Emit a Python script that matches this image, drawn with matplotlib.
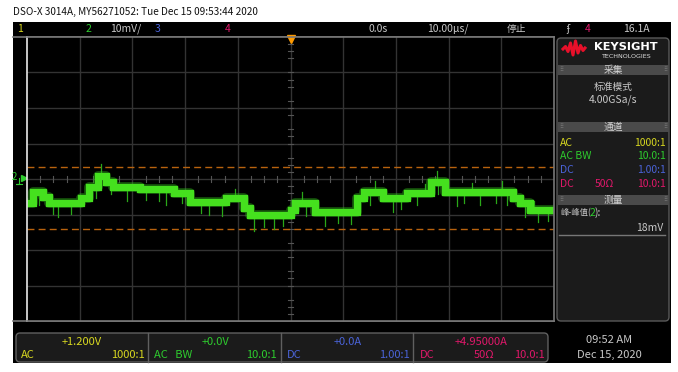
import matplotlib.pyplot as plt
from matplotlib.patches import Rectangle, FancyBboxPatch

# trace: step levels (time in us, level in mV)
step_t = [-50.0, -48.8, -46.9, -45.9, -39.8, -38.3, -36.6, -35.1, -33.6, -28.5,
          -22.2, -19.0, -12.3, -8.9, -7.6, 0.0, 0.9, 4.7, 12.7, 13.9,
          17.6, 22.2, 26.6, 29.4, 42.3, 43.6, 45.5, 50.0]
step_v = [-6.8, -3.7, -5.1, -6.8, -5.4, -2.3, 0.8, -0.8, -2.3, -2.8,
          -3.9, -6.5, -5.4, -8.2, -10.1, -8.7, -6.8, -9.3, -5.4, -3.7,
          -5.4, -3.9, -0.8, -3.7, -5.4, -6.8, -8.7, -8.7]
# short glitches on the trace (time, signed length in mV, minus = downward)
spike_t = [-48.5, -47.8, -45.0, -44.2, -41.7, -37.0, -34.0, -31.0, -27.5, -25.0,
           -23.6, -20.5, -17.0, -15.5, -13.0, -6.9, -5.0, -3.2, -1.5, 3.0,
           6.5, 9.0, 11.5, 15.0, 19.5, 21.0, 24.0, 28.0, 31.5, 33.0,
           36.0, 39.0, 41.0, 44.5, 47.0, 48.8, -36.0, -10.5, 2.2, 16.0,
           25.5, 27.8, 34.5, 40.2, 46.2]
spike_d = [-2.0, -2.5, -2.0, -3.0, -2.0, -2.0, -2.5, -3.0, -2.0, -2.5,
           -3.5, -2.0, -2.0, -2.5, -3.0, -3.5, -2.5, -3.0, -2.0, -2.5,
           -3.0, -2.0, -2.5, -2.5, -3.0, -2.0, -2.5, -2.5, -3.0, -2.0,
           -2.5, -2.0, -2.5, -3.0, -2.5, -2.0, 2.5, 1.5, 2.0, 2.0,
           1.5, 2.0, 1.5, 2.0, 1.5]
cursor_levels = [3.5, -14.2]

YEL = '#d8d820'
GRN = '#2ecc2e'
BLU = '#4a63d8'
MAG = '#e0186a'
GRY = '#c8c8c8'
FN = ['Liberation Sans Narrow', 'Noto Sans CJK SC', 'DejaVu Sans']
CJK = ['Noto Sans CJK SC', 'DejaVu Sans']

fig = plt.figure(figsize=(6.78, 3.72), dpi=100)
fig.patch.set_facecolor('white')

# full-figure layer in pixel units for frame, panels and texts
bg = fig.add_axes([0, 0, 1, 1])
bg.set_xlim(0, 678)
bg.set_ylim(372, 0)
bg.axis('off')
bg.add_patch(Rectangle((13, 22), 658, 341, facecolor='black', edgecolor='none'))
bg.plot([13, 554], [37, 37], color='#777777', lw=1.2)
bg.plot([13, 554], [321, 321], color='#777777', lw=1.2)

bg.text(13, 12, 'DSO-X 3014A, MY56271052: Tue Dec 15 09:53:44 2020',
        family=FN, fontsize=7.2, color='#111111', va='center')


def t(x, y, s, c=GRY, size=7.5, ha='left', fam=FN, **kw):
    bg.text(x, y, s, color=c, fontsize=size, ha=ha, va='center', family=fam, **kw)


# status bar
t(17, 29, '1', YEL)
t(86, 29, '2', GRN)
t(110, 29, '10mV/')
t(155, 29, '3', BLU)
t(225, 29, '4', MAG)
t(378, 29, '0.0s', ha='center')
t(448, 29, '10.00µs/', ha='center')
t(516, 29, '停止', fam=CJK, ha='center', size=7)
t(566, 29, 'ʄ', size=7)
t(585, 29, '4', MAG)
t(650, 29, '16.1A', ha='right')

# right side panel
bg.add_patch(FancyBboxPatch((557, 38), 112, 283, boxstyle='round,pad=0,rounding_size=4',
                            facecolor='#1b1b1b', edgecolor='#5a5a5a', lw=1))
logo_x = [563, 565.5, 568, 570.5, 573, 575.5, 578, 580.5, 583, 585]
logo_y = [49, 46.5, 51.5, 43, 55, 41, 53, 45.5, 50.5, 48]
bg.plot(logo_x, logo_y, color='#e8102a', lw=2.2, solid_joinstyle='round')
bg.text(626, 47, 'KEYSIGHT', color='white', fontsize=8.2, weight='bold',
        ha='center', va='center', family='DejaVu Sans')
bg.text(626, 56.5, 'TECHNOLOGIES', color='#dddddd', fontsize=4.6,
        ha='center', va='center', family='DejaVu Sans')


def header(y0, label):
    bg.add_patch(Rectangle((557.5, y0), 111, 10, facecolor='#4a4a4a', edgecolor='none'))
    bg.text(613, y0 + 5, label, color='#d0d0d0', fontsize=7, ha='center',
            va='center', family=CJK)
    bg.text(561, y0 + 5, '⠿', color='#888888', fontsize=4, ha='center', va='center')
    bg.text(665, y0 + 5, '⠿', color='#888888', fontsize=4, ha='center', va='center')


header(65, '采集')
t(613, 87, '标准模式', fam=CJK, ha='center', size=7)
t(613, 100, '4.00GSa/s', ha='center')
header(122, '通道')
t(560, 143, 'AC', YEL)
t(666, 143, '1000:1', YEL, ha='right')
t(560, 156, 'AC BW', GRN)
t(666, 156, '10.0:1', GRN, ha='right')
t(560, 170, 'DC', BLU)
t(666, 170, '1.00:1', BLU, ha='right')
t(560, 184, 'DC', MAG)
t(614, 184, '50Ω', MAG, ha='right')
t(666, 184, '10.0:1', MAG, ha='right')
header(195, '测量')
t(560, 213, '峰-峰值(', fam=CJK, size=6)
t(590, 213, '2', GRN)
t(595, 213, '):')
t(663, 228, '18mV', ha='right')
bg.plot([559, 665], [235, 235], color='#777777', lw=1)

# bottom channel boxes
bg.add_patch(FancyBboxPatch((16, 333), 532, 29, boxstyle='round,pad=0,rounding_size=4',
                            facecolor='#1b1b1b', edgecolor='#606060', lw=1))
for xd in [148, 281, 413]:
    bg.plot([xd, xd], [333, 362], color='#606060', lw=1)
t(82, 342, '+1.200V', YEL, ha='center', size=8)
t(21, 355, 'AC', YEL, size=8)
t(145, 355, '1000:1', YEL, ha='right', size=8)
t(215, 342, '+0.0V', GRN, ha='center', size=8)
t(154, 355, 'AC   BW', GRN, size=8)
t(277, 355, '10.0:1', GRN, ha='right', size=8)
t(348, 342, '+0.0A', BLU, ha='center', size=8)
t(287, 355, 'DC', BLU, size=8)
t(410, 355, '1.00:1', BLU, ha='right', size=8)
t(481, 342, '+4.95000A', MAG, ha='center', size=8)
t(420, 355, 'DC', MAG, size=8)
t(494, 355, '50Ω', MAG, ha='right', size=8)
t(545, 355, '10.0:1', MAG, ha='right', size=8)
t(609, 340, '09:52 AM', ha='center', size=8)
t(609, 355, 'Dec 15, 2020', ha='center', size=8)

# channel 2 ground marker
t(12, 177, '2', GRN, size=7)
bg.plot([23.5], [178], marker='>', color=GRN, markersize=4)
bg.plot([19, 19, 16, 22], [178, 184, 184, 184], color=GRN, lw=0.8)

# graticule
ax = fig.add_axes([27 / 678, 1 - 321 / 372, 527 / 678, 284 / 372])
ax.set_facecolor('black')
ax.set_xlim(-50, 50)
ax.set_ylim(-40, 40)
ax.set_xticks([])
ax.set_yticks([])
for s in ['top', 'bottom', 'right']:
    ax.spines[s].set_color('#777777')
    ax.spines[s].set_linewidth(1.2)
ax.spines['left'].set_color('#e8e8e8')
ax.spines['left'].set_linewidth(1.2)
for k in range(-40, 50, 10):
    ax.axvline(k, color='#333333', lw=1)
for k in range(-30, 40, 10):
    ax.axhline(k, color='#333333', lw=1)
for i in range(-20, 21):
    if i % 4:
        ax.plot([i * 2.5, i * 2.5], [-0.8, 0.8], color='#555555', lw=0.8)
        ax.plot([-0.55, 0.55], [i * 2.0, i * 2.0], color='#555555', lw=0.8)

for lv in cursor_levels:
    ax.axhline(lv, color='#b8620e', lw=1, dashes=(5, 3))

# glitches first, then the bright trace band on top
for st, sd in zip(spike_t, spike_d):
    i = max(j for j in range(len(step_t)) if step_t[j] <= st)
    base = step_v[i]
    ax.plot([st, st], [base, base + sd + (1.0 if sd > 0 else -1.0)],
            color='#2aa818', lw=0.9)
ax.step(step_t, step_v, where='post', color='#2fb81a', lw=7.0, alpha=0.45,
        solid_capstyle='butt')
ax.step(step_t, step_v, where='post', color='#45e01e', lw=5.2,
        solid_capstyle='butt', solid_joinstyle='miter')

ax.plot([0], [39.3], marker='v', color='#ff9a00', markersize=5.5, clip_on=False)

fig.savefig('out.png', dpi=100, facecolor='white')
